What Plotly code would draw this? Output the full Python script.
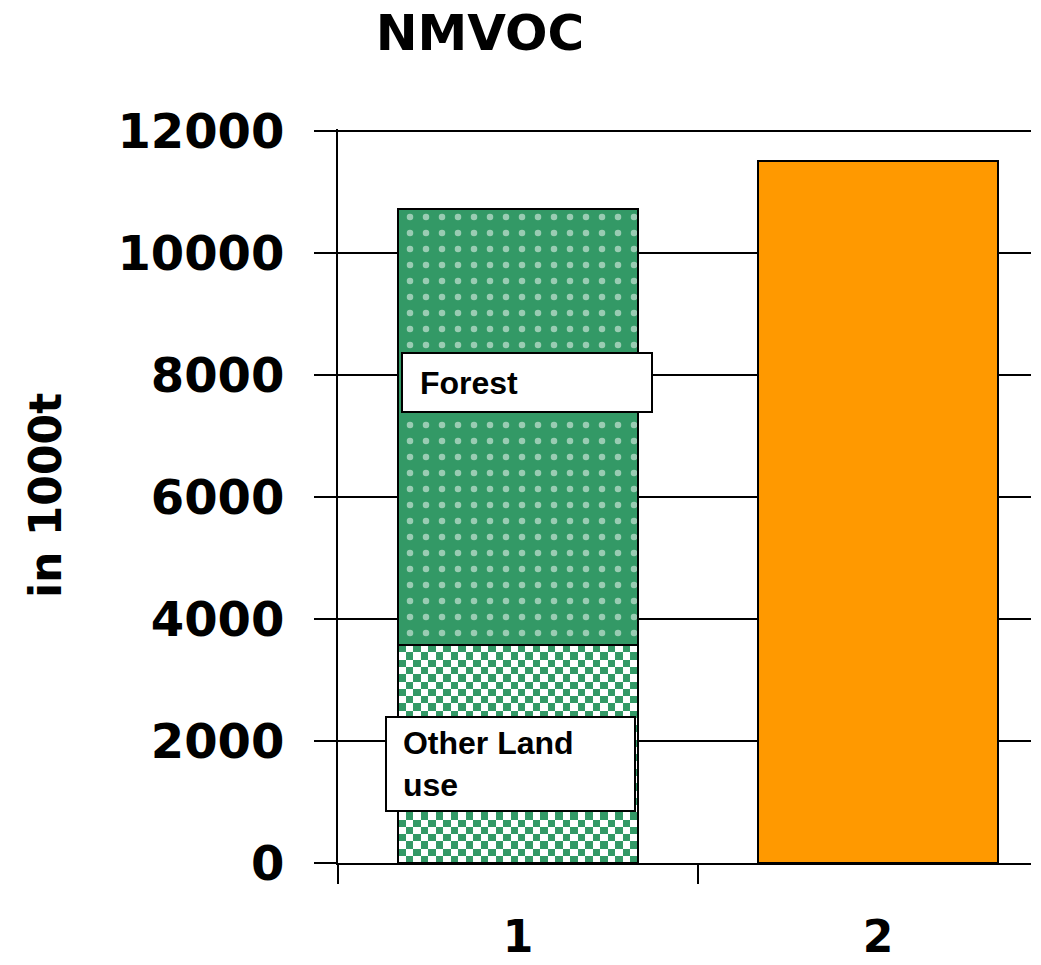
import numpy as np
import plotly.graph_objects as go

# ---- data -------------------------------------------------------------
categories = [1, 2]
category_labels = ["1", "2"]
other_land_use = [3570]      # column 1, lower segment (1000 t)
forest = [7150]              # column 1, upper segment (1000 t)
column_two = [11510]         # column 2 total (1000 t)
y_ticks = [0, 2000, 4000, 6000, 8000, 10000, 12000]
y_tick_labels = [str(v) for v in y_ticks]

GREEN = "#339966"
ORANGE = "#FF9900"
BAR_WIDTH = 0.664
TICK_FONT = dict(family="DejaVu Sans", size=48, color="black", weight="bold")
CAT_FONT = dict(family="DejaVu Sans", size=44, color="black", weight="bold")
LABEL_FONT = dict(family="Liberation Sans, Arial", size=32, color="black", weight="bold")

# ---- checkerboard texture for the "Other Land use" segment --------------
n_cols, n_rows = 32, 30
dx = BAR_WIDTH / n_cols
dy = other_land_use[0] / n_rows
x_start = categories[0] - BAR_WIDTH / 2 + dx / 2
checker = np.add.outer(np.arange(n_rows), np.arange(n_cols)) % 2

fig = go.Figure()

fig.add_trace(go.Heatmap(
    z=checker, x0=x_start, dx=dx, y0=dy / 2, dy=dy,
    colorscale=[[0, "white"], [1, GREEN]], zmin=0, zmax=1,
    showscale=False, hoverinfo="skip", zsmooth=False,
))

# outline of the checkered segment
fig.add_trace(go.Bar(
    x=[categories[0]], y=other_land_use, width=BAR_WIDTH,
    marker=dict(color="rgba(0,0,0,0)", line=dict(color="black", width=2)),
    name="Other Land use",
))

# dotted forest segment
fig.add_trace(go.Bar(
    x=[categories[0]], y=forest, width=BAR_WIDTH,
    marker=dict(
        color=GREEN,
        line=dict(color="black", width=2),
        pattern=dict(shape=".", fgcolor="white", bgcolor=GREEN,
                     size=16, solidity=0.13),
    ),
    name="Forest",
))

fig.add_trace(go.Bar(
    x=[categories[1]], y=column_two, width=BAR_WIDTH,
    marker=dict(color=ORANGE, line=dict(color="black", width=2)),
    name="2",
))

PLOT_W = 1041 - 338 - 10
PLOT_TOP, PLOT_BOTTOM = 129, 863
Y_MAX = 12000 * (PLOT_BOTTOM - PLOT_TOP) / (PLOT_BOTTOM - 131)

fig.update_layout(
    width=1041, height=965, autosize=False,
    margin=dict(l=338, r=10, t=PLOT_TOP, b=965 - PLOT_BOTTOM),
    paper_bgcolor="white", plot_bgcolor="white",
    barmode="stack", showlegend=False,
    title=dict(text="NMVOC", x=(480 - 338) / PLOT_W, xref="paper", xanchor="center",
               y=1 - 32 / 965, yref="container", yanchor="middle",
               font=dict(family="DejaVu Sans", size=50, color="black", weight="bold")),
)

fig.update_xaxes(
    range=[0.5, 0.5 + PLOT_W / 360], automargin=False,
    tickvals=categories, ticktext=category_labels, ticks="",
    tickfont=CAT_FONT, ticklabelstandoff=34,
    showgrid=False, zeroline=False,
    showline=True, linecolor="black", linewidth=2,
    minor=dict(tickvals=[0.5, 1.5, 2.5], ticks="outside", ticklen=19,
               tickwidth=2, tickcolor="black", showgrid=False),
)

fig.update_yaxes(
    range=[0, Y_MAX], automargin=False,
    tickvals=y_ticks, ticktext=y_tick_labels,
    ticks="outside", ticklen=22, tickwidth=2, tickcolor="black",
    tickfont=TICK_FONT, ticklabelstandoff=20,
    showgrid=True, gridcolor="black", gridwidth=2,
    zeroline=False, showline=True, linecolor="black", linewidth=2,
)

# axis title
fig.add_annotation(
    text="in 1000t", textangle=-90, showarrow=False,
    xref="paper", yref="paper", x=(45 - 338) / PLOT_W, y=0.5,
    xanchor="center", yanchor="middle",
    font=dict(family="DejaVu Sans", size=44, color="black", weight="bold"),
)

# segment labels
fig.add_annotation(
    text="&nbsp;Forest", showarrow=False, align="left",
    xref="x", yref="y", x=0.675, y=7869, xanchor="left", yanchor="middle",
    width=232, height=41, borderpad=8, borderwidth=2,
    bordercolor="black", bgcolor="white", font=LABEL_FONT,
)
fig.add_annotation(
    text="&nbsp;Other Land<br>&nbsp;use", showarrow=False, align="left",
    xref="x", yref="y", x=0.631, y=1631, xanchor="left", yanchor="middle",
    width=233, borderpad=7, borderwidth=2,
    bordercolor="black", bgcolor="white", font=LABEL_FONT,
)

fig.write_html("out.html")
